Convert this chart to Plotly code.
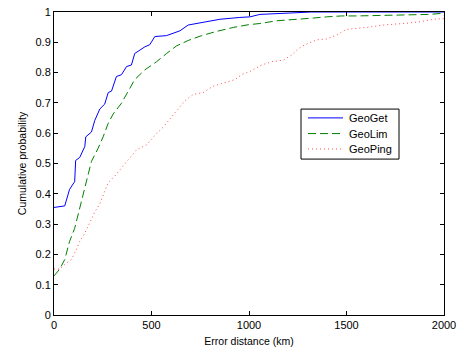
import plotly.graph_objects as go

# GeoGet (blue, solid)
geoget_x = [0, 55, 80, 106, 111, 132, 158, 163, 192, 209, 235, 260, 278, 295, 320, 346, 372, 397, 414, 440,
            466, 491, 517, 577, 620, 646, 688, 764, 851, 953, 1005, 1056, 1277, 1320, 2000]
geoget_y = [0.355, 0.36, 0.415, 0.44, 0.51, 0.52, 0.556, 0.588, 0.604, 0.642, 0.68, 0.696, 0.734, 0.739, 0.787,
            0.793, 0.82, 0.825, 0.863, 0.874, 0.885, 0.892, 0.919, 0.922, 0.931, 0.938, 0.957, 0.965, 0.976,
            0.982, 0.984, 0.992, 0.998, 1.0, 1.0]

# GeoLim (green, dashed)
geolim_x = [0, 29, 55, 80, 106, 123, 135, 158, 175, 192, 226, 252, 277, 303, 346, 380, 414, 466, 526, 577,
            628, 688, 757, 834, 919, 996, 1056, 1141, 1270, 1329, 1398, 1475, 1552, 1689, 1843, 1920, 2000]
geolim_y = [0.129, 0.151, 0.183, 0.243, 0.286, 0.329, 0.361, 0.421, 0.464, 0.507, 0.55, 0.588, 0.631, 0.663,
            0.699, 0.739, 0.777, 0.809, 0.836, 0.863, 0.888, 0.906, 0.922, 0.936, 0.949, 0.958, 0.962, 0.971,
            0.976, 0.98, 0.984, 0.987, 0.987, 0.989, 0.99, 0.992, 0.996]

# GeoPing (red, dotted)
geoping_x = [0, 29, 55, 89, 115, 132, 158, 183, 209, 235, 252, 278, 312, 346, 380, 423, 474, 517, 560, 594,
             628, 671, 714, 765, 816, 876, 928, 962, 1005, 1065, 1116, 1176, 1219, 1253, 1287, 1347, 1398,
             1450, 1501, 1604, 1689, 1809, 1877, 1946, 1997, 2000]
geoping_y = [0.152, 0.151, 0.167, 0.183, 0.216, 0.243, 0.27, 0.302, 0.34, 0.367, 0.394, 0.437, 0.459, 0.485,
             0.512, 0.545, 0.561, 0.593, 0.62, 0.647, 0.675, 0.707, 0.728, 0.734, 0.755, 0.766, 0.777, 0.793,
             0.804, 0.825, 0.836, 0.841, 0.858, 0.879, 0.892, 0.908, 0.911, 0.924, 0.943, 0.949, 0.957, 0.963,
             0.968, 0.976, 0.978, 0.99]

series_names = ["GeoGet", "GeoLim", "GeoPing"]
series_colors = ["#0000ff", "#008000", "#ff4d4d"]
series_dash = ["solid", "8px,4px", "1px,3px"]

x_ticks = [0, 500, 1000, 1500, 2000]
y_ticks = [0, 0.1, 0.2, 0.3, 0.4, 0.5, 0.6, 0.7, 0.8, 0.9, 1]
y_tick_text = ["0", "0.1", "0.2", "0.3", "0.4", "0.5", "0.6", "0.7", "0.8", "0.9", "1"]

font = "Liberation Sans, Arial, Helvetica, sans-serif"

fig = go.Figure()
for name, xs, ys, col, dash in zip(series_names, [geoget_x, geolim_x, geoping_x],
                                   [geoget_y, geolim_y, geoping_y], series_colors, series_dash):
    fig.add_trace(go.Scatter(x=xs, y=ys, mode="lines", name=name, showlegend=False,
                             line=dict(color=col, width=1, dash=dash)))

axis_common = dict(showgrid=False, zeroline=False, showline=True, linecolor="black", linewidth=1,
                   mirror="ticks", ticks="inside", ticklen=4, tickcolor="black",
                   ticklabeloverflow="allow",
                   tickfont=dict(family=font, size=11, color="black"))

# plot area in pixels: x 54..444, y 6..315
W_L, W_R, H_T, H_B = 54, 444, 6, 315
def px(xp):
    return (xp - W_L) / (W_R - W_L)
def py(yp):
    return (H_B - yp) / (H_B - H_T)

shapes = [dict(type="rect", xref="paper", yref="paper",
               x0=px(301), x1=px(399), y0=py(156), y1=py(105),
               line=dict(color="black", width=1), fillcolor="white", layer="above")]
annotations = []
row_y = [114, 130, 145.7]
for name, col, dash, ry in zip(series_names, series_colors, series_dash, row_y):
    shapes.append(dict(type="line", xref="paper", yref="paper",
                       x0=px(308), x1=px(343), y0=py(ry), y1=py(ry),
                       line=dict(color=col, width=1, dash=dash), layer="above"))
    annotations.append(dict(text=name, xref="paper", yref="paper", x=px(347), y=py(ry),
                            xanchor="left", yanchor="middle", showarrow=False,
                            font=dict(family=font, size=11, color="black")))

fig.update_layout(
    width=464, height=352,
    margin=dict(l=W_L, r=464 - W_R, t=H_T, b=352 - H_B),
    paper_bgcolor="white", plot_bgcolor="white",
    font=dict(family=font, size=11, color="black"),
    xaxis=dict(range=[0, 2000], tickvals=x_ticks,
               title=dict(text="Error distance (km)", font=dict(family=font, size=10.5), standoff=7),
               **axis_common),
    yaxis=dict(range=[0, 1], tickvals=y_ticks, ticktext=y_tick_text,
               title=dict(text="Cumulative probability", font=dict(family=font, size=10.5), standoff=6),
               **axis_common),
    shapes=shapes,
    annotations=annotations,
    showlegend=False,
)

fig.write_html("out.html")
